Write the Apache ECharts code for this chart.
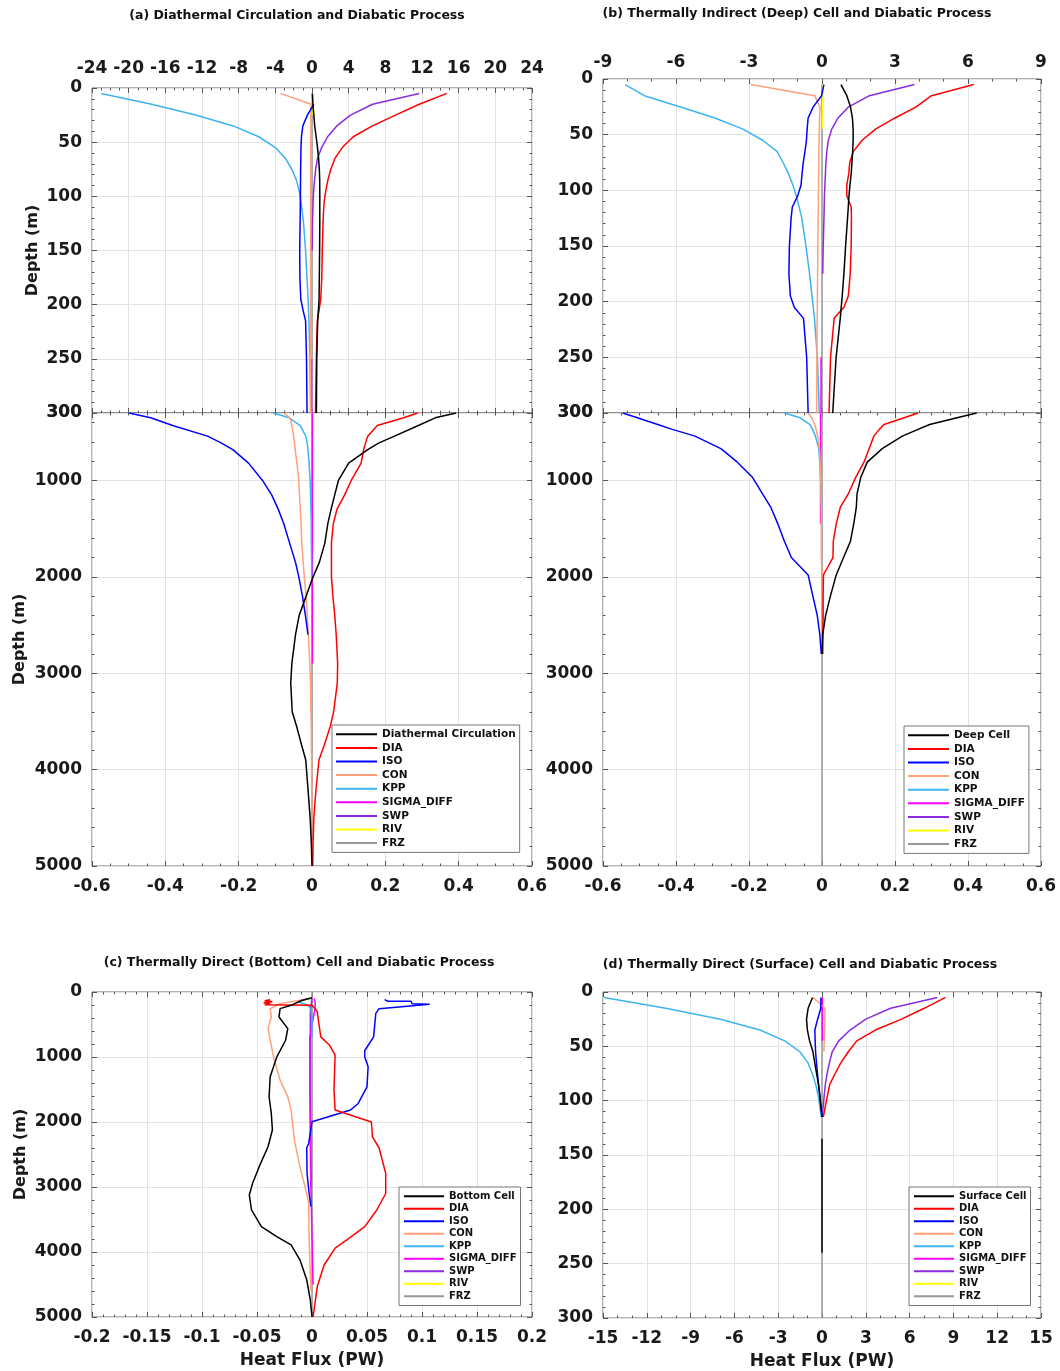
<!DOCTYPE html>
<html><head><meta charset="utf-8">
<script src="https://cdn.jsdelivr.net/npm/echarts@6/dist/echarts.min.js"></script>
<style>html,body{margin:0;padding:0;background:#fff}#c{width:1060px;height:1371px}</style>
</head><body><div id="c"></div>
<script>
// ---------------- tick labels ----------------
const ticksAX = [-24, -20, -16, -12, -8, -4, 0, 4, 8, 12, 16, 20, 24];
const ticksBX = [-9, -6, -3, 0, 3, 6, 9];
const ticksFluxX = [-0.6, -0.4, -0.2, 0, 0.2, 0.4, 0.6];
const ticksCX = [-0.2, -0.15, -0.1, -0.05, 0, 0.05, 0.1, 0.15, 0.2];
const ticksDX = [-15, -12, -9, -6, -3, 0, 3, 6, 9, 12, 15];
const ticksUpperY = [0, 50, 100, 150, 200, 250, 300];
const ticksDeepY = [300, 1000, 2000, 3000, 4000, 5000];
const ticksFullY = [0, 1000, 2000, 3000, 4000, 5000];

// ---------------- (a)/(b) upper 0-300 m ----------------
const zTop = [5, 15, 25, 35, 45, 55, 65, 75, 85, 95, 105, 115, 125, 150, 175, 195, 205, 215, 250, 300];
const aTopCell = [0.05, 0.1, 0.2, 0.3, 0.45, 0.6, 0.72, 0.8, 0.84, 0.85, 0.85, 0.85, 0.85, 0.83, 0.8, 0.77, 0.7, 0.62, 0.52, 0.48];
const aTopDIA = [14.7, 11.7, 9.1, 6.6, 4.5, 3.3, 2.5, 2.05, 1.73, 1.5, 1.33, 1.25, 1.2, 1.12, 1.07, 0.95, 0.77, 0.58, 0.47, 0.38];
const aTopISO = [null, 0.2, -0.5, -1.0, -1.15, -1.2, -1.22, -1.24, -1.25, -1.26, -1.27, -1.28, -1.3, -1.34, -1.32, -1.22, -0.98, -0.7, -0.6, -0.54];
const aTopCON = [-3.45, -0.1, -0.12, -0.12, -0.12, -0.13, -0.13, -0.13, -0.13, -0.14, -0.14, -0.14, -0.14, -0.15, -0.15, -0.15, -0.15, -0.15, -0.15, -0.15];
const aTopKPP = [-23.0, -17.5, -12.7, -8.6, -5.8, -4.0, -2.9, -2.2, -1.7, -1.4, -1.2, -1.05, -0.92, -0.7, -0.55, -0.42, -0.38, -0.33, -0.22, -0.15];
const aTopSIG = [null, null, null, null, null, null, null, null, null, null, null, null, null, null, null, null, null, null, -0.05, -0.05];
const aTopSWP = [11.7, 6.6, 4.2, 2.7, 1.7, 1.05, 0.6, 0.4, 0.28, 0.18, 0.12, 0.08, 0.05, 0.02, null, null, null, null, null, null];
const aTopRIV = [0.03, 0.03, 0.03, null, null, null, null, null, null, null, null, null, null, null, null, null, null, null, null, null];
const aTopFRZ = [0, 0, 0, 0, 0, 0, 0, 0, 0, 0, 0, 0, 0, 0, 0, 0, 0, 0, 0, 0];

const bTopCell = [0.78, 1.02, 1.17, 1.25, 1.28, 1.28, 1.26, 1.23, 1.2, 1.15, 1.11, 1.08, 1.05, 0.97, 0.9, 0.83, 0.79, 0.75, 0.58, 0.44];
const bTopDIA = [6.24, 4.5, 3.87, 3.0, 2.2, 1.65, 1.29, 1.14, 1.1, 1.02, 1.02, 1.2, 1.21, 1.2, 1.16, 1.08, 0.9, 0.5, 0.35, 0.29];
const bTopISO = [0.08, -0.02, -0.36, -0.57, -0.61, -0.64, -0.7, -0.77, -0.82, -0.86, -1.0, -1.22, -1.27, -1.34, -1.36, -1.3, -1.14, -0.76, -0.63, -0.57];
const bTopCON = [-2.93, -0.3, -0.08, -0.1, -0.11, -0.12, -0.13, -0.13, -0.14, -0.14, -0.15, -0.15, -0.16, -0.17, -0.18, -0.19, -0.19, -0.2, -0.21, -0.22];
const bTopKPP = [-8.09, -7.3, -5.85, -4.4, -3.25, -2.44, -1.85, -1.6, -1.38, -1.2, -1.06, -0.94, -0.83, -0.66, -0.51, -0.41, -0.36, -0.31, -0.19, -0.11];
const bTopSIG = [null, null, null, null, null, null, null, null, null, null, null, null, null, null, null, null, null, null, -0.04, -0.04];
const bTopSWP = [3.8, 1.95, 1.1, 0.66, 0.4, 0.26, 0.2, 0.16, 0.14, 0.12, 0.1, 0.09, 0.08, 0.05, 0.03, null, null, null, null, null];
const bTopRIV = [0.05, 0.04, 0.03, 0.02, 0.02, null, null, null, null, null, null, null, null, null, null, null, null, null, null, null];
const bTopFRZ = [0, 0, 0, 0, 0, 0, 0, 0, 0, 0, 0, 0, 0, 0, 0, 0, 0, 0, 0, 0];

// ---------------- (a) deep 300-5000 m ----------------
const zBotA = [300, 350, 430, 540, 610, 680, 820, 1000, 1150, 1300, 1450, 1650, 1850, 2000, 2200, 2400, 2600, 2900, 3100, 3400, 3550, 3750, 3900, 4200, 4500, 4750, 5000];
const aBotCell = [0.393, 0.336, 0.29, 0.225, 0.183, 0.152, 0.10, 0.072, 0.062, 0.052, 0.043, 0.035, 0.02, 0.003, -0.016, -0.035, -0.045, -0.055, -0.058, -0.054, -0.042, -0.028, -0.017, -0.011, -0.005, -0.002, 0];
const aBotDIA = [0.288, 0.25, 0.178, 0.152, 0.146, 0.141, 0.134, 0.107, 0.089, 0.068, 0.058, 0.053, 0.053, 0.053, 0.057, 0.062, 0.066, 0.070, 0.069, 0.059, 0.05, 0.033, 0.019, 0.011, 0.005, 0.003, 0.002];
const aBotISO = [-0.499, -0.44, -0.38, -0.285, -0.248, -0.216, -0.173, -0.135, -0.11, -0.092, -0.077, -0.061, -0.045, -0.036, -0.026, -0.018, -0.011, null, null, null, null, null, null, null, null, null, null];
const aBotCON = [-0.077, -0.06, -0.055, -0.05, -0.048, -0.046, -0.041, -0.036, -0.034, -0.032, -0.03, -0.028, -0.024, -0.021, -0.016, -0.013, -0.01, -0.006, -0.004, -0.003, -0.002, -0.002, -0.001, -0.001, 0, 0, 0];
const aBotKPP = [-0.106, -0.062, -0.032, -0.017, -0.013, -0.011, -0.008, -0.005, -0.004, -0.003, -0.002, -0.002, -0.001, -0.001, null, null, null, null, null, null, null, null, null, null, null, null, null];
const aBotSIG = [0.001, 0.001, 0.001, 0.001, 0.001, 0.001, 0.001, 0.001, 0.001, 0.001, 0.001, 0.001, 0.001, 0.001, 0.001, 0.001, 0.001, 0.001, null, null, null, null, null, null, null, null, null];
const aBotFRZ = [0, 0, 0, 0, 0, 0, 0, 0, 0, 0, 0, 0, 0, 0, 0, 0, 0, 0, 0, 0, 0, 0, 0, 0, 0, 0, 0];

// ---------------- (b) deep 300-5000 m ----------------
const zBotB = [300, 350, 420, 470, 540, 670, 810, 970, 1140, 1280, 1450, 1630, 1800, 1890, 1980, 2200, 2400, 2600, 2800, 5000];
const bBotCell = [0.424, 0.37, 0.295, 0.263, 0.22, 0.165, 0.124, 0.106, 0.096, 0.094, 0.087, 0.078, 0.059, 0.049, 0.039, 0.023, 0.01, 0.002, 0, null];
const bBotDIA = [0.263, 0.225, 0.17, 0.157, 0.142, 0.129, 0.115, 0.092, 0.072, 0.05, 0.039, 0.031, 0.030, 0.017, 0.004, 0.003, 0.003, 0.002, 0.002, null];
const bBotISO = [-0.546, -0.506, -0.45, -0.41, -0.348, -0.277, -0.232, -0.19, -0.163, -0.14, -0.121, -0.103, -0.084, -0.061, -0.038, -0.025, -0.013, -0.006, -0.002, null];
const bBotCON = [-0.038, -0.028, -0.02, -0.016, -0.012, -0.007, -0.005, -0.003, -0.003, -0.002, -0.002, -0.002, -0.002, -0.001, 0.001, 0.002, 0.002, 0.002, 0.002, null];
const bBotKPP = [-0.103, -0.06, -0.033, -0.026, -0.018, -0.009, -0.006, -0.004, -0.002, -0.001, null, null, null, null, null, null, null, null, null, null];
const bBotSIG = [-0.004, -0.004, -0.004, -0.004, -0.004, -0.004, -0.004, -0.004, -0.004, -0.004, -0.004, null, null, null, null, null, null, null, null, null];
const bBotFRZ = [0, 0, 0, 0, 0, 0, 0, 0, 0, 0, 0, 0, 0, 0, 0, 0, 0, 0, 0, 0];

// ---------------- (c) bottom cell 0-5000 m ----------------
const cCellZ = [90, 130, 205, 256, 384, 563, 742, 998, 1305, 1612, 1868, 2124, 2380, 2687, 2943, 3122, 3352, 3608, 3762, 3889, 4120, 4427, 4734, 5000];
const cCell = [0, -0.0096, -0.019, -0.029, -0.030, -0.022, -0.024, -0.032, -0.038, -0.039, -0.037, -0.036, -0.040, -0.048, -0.054, -0.057, -0.055, -0.046, -0.032, -0.019, -0.011, -0.0048, -0.0016, 0];
const cDIAZ = [118, 135, 150, 165, 180, 195, 205, 300, 435, 690, 820, 970, 1510, 1815, 2000, 2230, 2400, 2790, 3100, 3350, 3610, 3810, 3940, 4200, 4530, 5000];
const cDIA = [-0.038, -0.043, -0.036, -0.044, -0.038, -0.043, 0.0, 0.0048, 0.0058, 0.008, 0.016, 0.021, 0.020, 0.021, 0.054, 0.055, 0.061, 0.067, 0.067, 0.059, 0.048, 0.032, 0.021, 0.011, 0.0048, 0.001];
const cISOZ = [118, 143, 143, 179, 189, 200, 256, 330, 690, 900, 1000, 1150, 1460, 1715, 1815, 1996, 2330, 2400, 2790, 3100, 3300];
const cISO = [0.066, 0.069, 0.090, 0.091, 0.107, 0.107, 0.061, 0.058, 0.056, 0.048, 0.048, 0.051, 0.050, 0.042, 0.035, 0.0, -0.003, -0.0048, -0.0045, -0.0026, -0.001];
const cCONZ = [100, 179, 256, 384, 563, 998, 1356, 1612, 1817, 2278, 2687, 2994, 3250, 3813, 4324, 4600];
const cCON = [-0.0016, -0.029, -0.038, -0.037, -0.040, -0.035, -0.029, -0.022, -0.019, -0.016, -0.011, -0.0064, -0.003, -0.0026, -0.0016, -0.001];
const cKPPZ = [100, 150, 200, 260, 400, 700];
const cKPP = [-0.003, -0.013, -0.004, -0.001, 0, 0];
const cSIGZ = [100, 150, 230, 700, 1500, 3000, 4500];
const cSIG = [0.002, 0.0028, 0.003, -0.002, -0.002, -0.001, 0.001];
const cSWPZ = [100, 300, 1500, 3000];
const cSWP = [0.0, -0.0015, -0.0015, -0.001];
const cFRZZ = [0, 5000];
const cFRZ = [0, 0];

// ---------------- (d) surface cell 0-300 m ----------------
const zD = [5, 15, 25, 35, 45, 55, 65, 75, 85, 95, 105, 115, 125, 135, 240, 300];
const dCell = [-0.65, -0.95, -1.06, -1.0, -0.85, -0.62, -0.5, -0.37, -0.24, -0.14, -0.07, 0, null, 0, 0, null];
const dDIA = [8.46, 7.0, 5.45, 3.65, 2.38, 1.8, 1.3, 0.9, 0.53, 0.38, 0.23, 0.09, null, null, null, null];
const dISO = [-0.07, -0.08, -0.3, -0.49, -0.47, -0.44, -0.38, -0.31, -0.24, -0.16, -0.09, 0, null, null, null, null];
const dCON = [-0.6, 0.2, 0.2, 0.18, 0.15, 0.13, null, null, null, null, null, null, null, null, null, null];
const dKPP = [-14.93, -10.7, -6.96, -4.25, -2.55, -1.52, -0.97, -0.67, -0.43, -0.27, -0.15, -0.05, null, null, null, null];
const dSIG = [0.02, 0.02, 0.02, 0.02, 0.02, null, null, null, null, null, null, null, null, null, null, null];
const dSWP = [7.9, 4.7, 3.0, 1.92, 1.15, 0.7, 0.51, 0.35, 0.23, 0.15, 0.09, 0.0, null, null, null, null];
const dRIV = [0.05, 0.05, 0.05, null, null, null, null, null, null, null, null, null, null, null, null, null];
const dFRZ = [0, 0, 0, 0, 0, 0, 0, 0, 0, 0, 0, 0, 0, 0, 0, 0];

const procNames = ['DIA', 'ISO', 'CON', 'KPP', 'SIGMA_DIFF', 'SWP', 'RIV', 'FRZ'];
const cellNames = ['Diathermal Circulation', 'Deep Cell', 'Bottom Cell', 'Surface Cell'];
const titles = ['(a) Diathermal Circulation and Diabatic Process',
  '(b) Thermally Indirect (Deep) Cell and Diabatic Process',
  '(c) Thermally Direct (Bottom) Cell and Diabatic Process',
  '(d) Thermally Direct (Surface) Cell and Diabatic Process'];

// ---------------- styling / layout ----------------
const COLOR = {cell: '#000000', DIA: '#ff0000', ISO: '#0000ff', CON: '#ffa07a', KPP: '#3cb4f0',
  SIGMA_DIFF: '#ff00ff', SWP: '#8a2be2', RIV: '#ffff00', FRZ: '#999999'};
const FONT = 'DejaVu Sans';
const TICKC = '#555';

const sections = [
  {grid: {left: 92, top: 88, width: 440, height: 325}, xt: ticksAX, xm: 4, xpos: 'top', xmargin: 11, yt: ticksUpperY, ym: 5, yName: 'Depth (m)', yGap: 51},
  {grid: {left: 92, top: 413, width: 440, height: 453}, xt: ticksFluxX, xm: 4, xpos: 'bottom', xmargin: 12, yt: ticksDeepY, ym: 5, yName: 'Depth (m)', yGap: 64, deep: true},
  {grid: {left: 603, top: 79, width: 438, height: 334}, xt: ticksBX, xm: 3, xpos: 'top', xmargin: 8, yt: ticksUpperY, ym: 5},
  {grid: {left: 603, top: 413, width: 438, height: 453}, xt: ticksFluxX, xm: 4, xpos: 'bottom', xmargin: 12, yt: ticksDeepY, ym: 5, deep: true},
  {grid: {left: 92, top: 992, width: 440, height: 325}, xt: ticksCX, xm: 5, xpos: 'bottom', xmargin: 12, yt: ticksFullY, ym: 5, yName: 'Depth (m)', yGap: 63, xName: 'Heat Flux (PW)'},
  {grid: {left: 603, top: 992, width: 438, height: 326}, xt: ticksDX, xm: 3, xpos: 'bottom', xmargin: 12, yt: ticksUpperY, ym: 5, xName: 'Heat Flux (PW)'}
];

const r10 = v => Math.round(v * 1e10) / 1e10;
const labelStyle = {color: '#1a1a1a', fontFamily: FONT, fontWeight: 'bold', fontSize: 17};

function makeAxis(gi, ticks, minor, pos, primary, margin, inverse, deep, name, nameGap) {
  const isY = pos === 'left' || pos === 'right';
  const ax = {
    type: 'value', gridIndex: gi, position: pos, inverse: !!inverse,
    min: ticks[0], max: ticks[ticks.length - 1],
    axisLine: {show: false, onZero: false},
    axisTick: {show: true, inside: true, length: 5, lineStyle: {color: TICKC, width: 1}},
    minorTick: {show: true, splitNumber: minor, length: 2.5, lineStyle: {color: TICKC, width: 1}},
    axisLabel: primary ? Object.assign({show: true, margin: margin}, labelStyle) : {show: false},
    splitLine: primary ? {show: true, lineStyle: {color: '#e3e3e3', width: 1}} : {show: false},
    minorSplitLine: {show: false}
  };
  if (primary && isY) ax.axisLabel.formatter = v => String(Math.round(v));
  if (deep) {
    ax.splitNumber = 5;
    if (primary) ax.axisLabel.customValues = ticks;
  } else {
    ax.interval = r10(ticks[1] - ticks[0]);
  }
  if (name) {
    ax.name = name; ax.nameLocation = 'middle'; ax.nameGap = nameGap;
    ax.nameTextStyle = {color: '#1a1a1a', fontFamily: FONT, fontWeight: 'bold', fontSize: pos === 'left' ? 16 : 17};
  }
  return ax;
}

const grids = [], xAxes = [], yAxes = [];
sections.forEach((s, k) => {
  grids.push(Object.assign({show: true, borderColor: '#666', borderWidth: 1, containLabel: false, outerBoundsMode: 'none'}, s.grid));
  const other = s.xpos === 'top' ? 'bottom' : 'top';
  xAxes.push(makeAxis(k, s.xt, s.xm, s.xpos, true, s.xmargin, false, false, s.xName, 35));
  xAxes.push(makeAxis(k, s.xt, s.xm, other, false, 0, false, false));
  yAxes.push(makeAxis(k, s.yt, s.ym, 'left', true, 10, true, s.deep, s.yName, s.yGap));
  yAxes.push(makeAxis(k, s.yt, s.ym, 'right', false, 0, true, s.deep));
});

function line(name, colorKey, k, z, v) {
  const color = COLOR[colorKey];
  return {
    type: 'line', name: name, xAxisIndex: 2 * k, yAxisIndex: 2 * k,
    data: z.map((d, i) => [v[i] == null ? '-' : v[i], d]),
    symbol: 'none', showSymbol: false, connectNulls: false, clip: true, silent: true,
    lineStyle: {color: color, width: 1.5}, itemStyle: {color: color},
    emphasis: {disabled: true}
  };
}

// draw order: FRZ lowest, cell line on top
function panelSeries(k, cellName, d) {
  return [
    line('FRZ', 'FRZ', k, d.FRZ[0], d.FRZ[1]),
    d.RIV ? line('RIV', 'RIV', k, d.RIV[0], d.RIV[1]) : null,
    d.SWP ? line('SWP', 'SWP', k, d.SWP[0], d.SWP[1]) : null,
    d.SIG ? line('SIGMA_DIFF', 'SIGMA_DIFF', k, d.SIG[0], d.SIG[1]) : null,
    line('KPP', 'KPP', k, d.KPP[0], d.KPP[1]),
    line('CON', 'CON', k, d.CON[0], d.CON[1]),
    line('ISO', 'ISO', k, d.ISO[0], d.ISO[1]),
    line('DIA', 'DIA', k, d.DIA[0], d.DIA[1]),
    line(cellName, 'cell', k, d.cell[0], d.cell[1])
  ].filter(Boolean);
}

const series = [].concat(
  panelSeries(0, cellNames[0], {FRZ: [zTop, aTopFRZ], RIV: [zTop, aTopRIV], SWP: [zTop, aTopSWP], SIG: [zTop, aTopSIG], KPP: [zTop, aTopKPP], CON: [zTop, aTopCON], ISO: [zTop, aTopISO], DIA: [zTop, aTopDIA], cell: [zTop, aTopCell]}),
  panelSeries(1, cellNames[0], {FRZ: [zBotA, aBotFRZ], SIG: [zBotA, aBotSIG], KPP: [zBotA, aBotKPP], CON: [zBotA, aBotCON], ISO: [zBotA, aBotISO], DIA: [zBotA, aBotDIA], cell: [zBotA, aBotCell]}),
  panelSeries(2, cellNames[1], {FRZ: [zTop, bTopFRZ], RIV: [zTop, bTopRIV], SWP: [zTop, bTopSWP], SIG: [zTop, bTopSIG], KPP: [zTop, bTopKPP], CON: [zTop, bTopCON], ISO: [zTop, bTopISO], DIA: [zTop, bTopDIA], cell: [zTop, bTopCell]}),
  panelSeries(3, cellNames[1], {FRZ: [zBotB, bBotFRZ], SIG: [zBotB, bBotSIG], KPP: [zBotB, bBotKPP], CON: [zBotB, bBotCON], ISO: [zBotB, bBotISO], DIA: [zBotB, bBotDIA], cell: [zBotB, bBotCell]}),
  panelSeries(4, cellNames[2], {FRZ: [cFRZZ, cFRZ], SWP: [cSWPZ, cSWP], SIG: [cSIGZ, cSIG], KPP: [cKPPZ, cKPP], CON: [cCONZ, cCON], ISO: [cISOZ, cISO], DIA: [cDIAZ, cDIA], cell: [cCellZ, cCell]}),
  panelSeries(5, cellNames[3], {FRZ: [zD, dFRZ], RIV: [zD, dRIV], SWP: [zD, dSWP], SIG: [zD, dSIG], KPP: [zD, dKPP], CON: [zD, dCON], ISO: [zD, dISO], DIA: [zD, dDIA], cell: [zD, dCell]})
);

function makeLegend(cellName, left, top, fs, lh, iw, pad) {
  return {
    orient: 'vertical', left: left, top: top, data: [cellName].concat(procNames),
    icon: 'rect', itemWidth: iw, itemHeight: 2, itemGap: 0, padding: pad,
    backgroundColor: '#ffffff', borderColor: '#777', borderWidth: 1, borderRadius: 0,
    selectedMode: false,
    textStyle: {fontFamily: FONT, fontWeight: 'bold', fontSize: fs, lineHeight: lh, color: '#111'}
  };
}

const titlePos = [[297, 16], [797, 14], [299, 963], [800, 965]];
const graphic = titles.map((t, i) => ({
  type: 'text', x: titlePos[i][0], y: titlePos[i][1], silent: true,
  style: {text: t, font: 'bold 12.5px "DejaVu Sans"', fill: '#111',
    align: 'center', verticalAlign: 'middle', textAlign: 'center', textVerticalAlign: 'middle'}
}));

const chart = echarts.init(document.getElementById('c'), null, {renderer: 'canvas'});
chart.setOption({
  animation: false,
  backgroundColor: '#ffffff',
  grid: grids,
  xAxis: xAxes,
  yAxis: yAxes,
  legend: [
    makeLegend(cellNames[0], 332, 725, 10.5, 13.6, 41, [2.5, 4, 2.5, 4]),
    makeLegend(cellNames[1], 904, 726, 10.5, 13.6, 41, [2.5, 4, 2.5, 4]),
    makeLegend(cellNames[2], 399, 1187, 10, 12.5, 40, [3, 4, 3, 5]),
    makeLegend(cellNames[3], 909, 1187, 10, 12.5, 40, [3, 4, 3, 5])
  ],
  graphic: graphic,
  series: series
});
</script></body></html>
